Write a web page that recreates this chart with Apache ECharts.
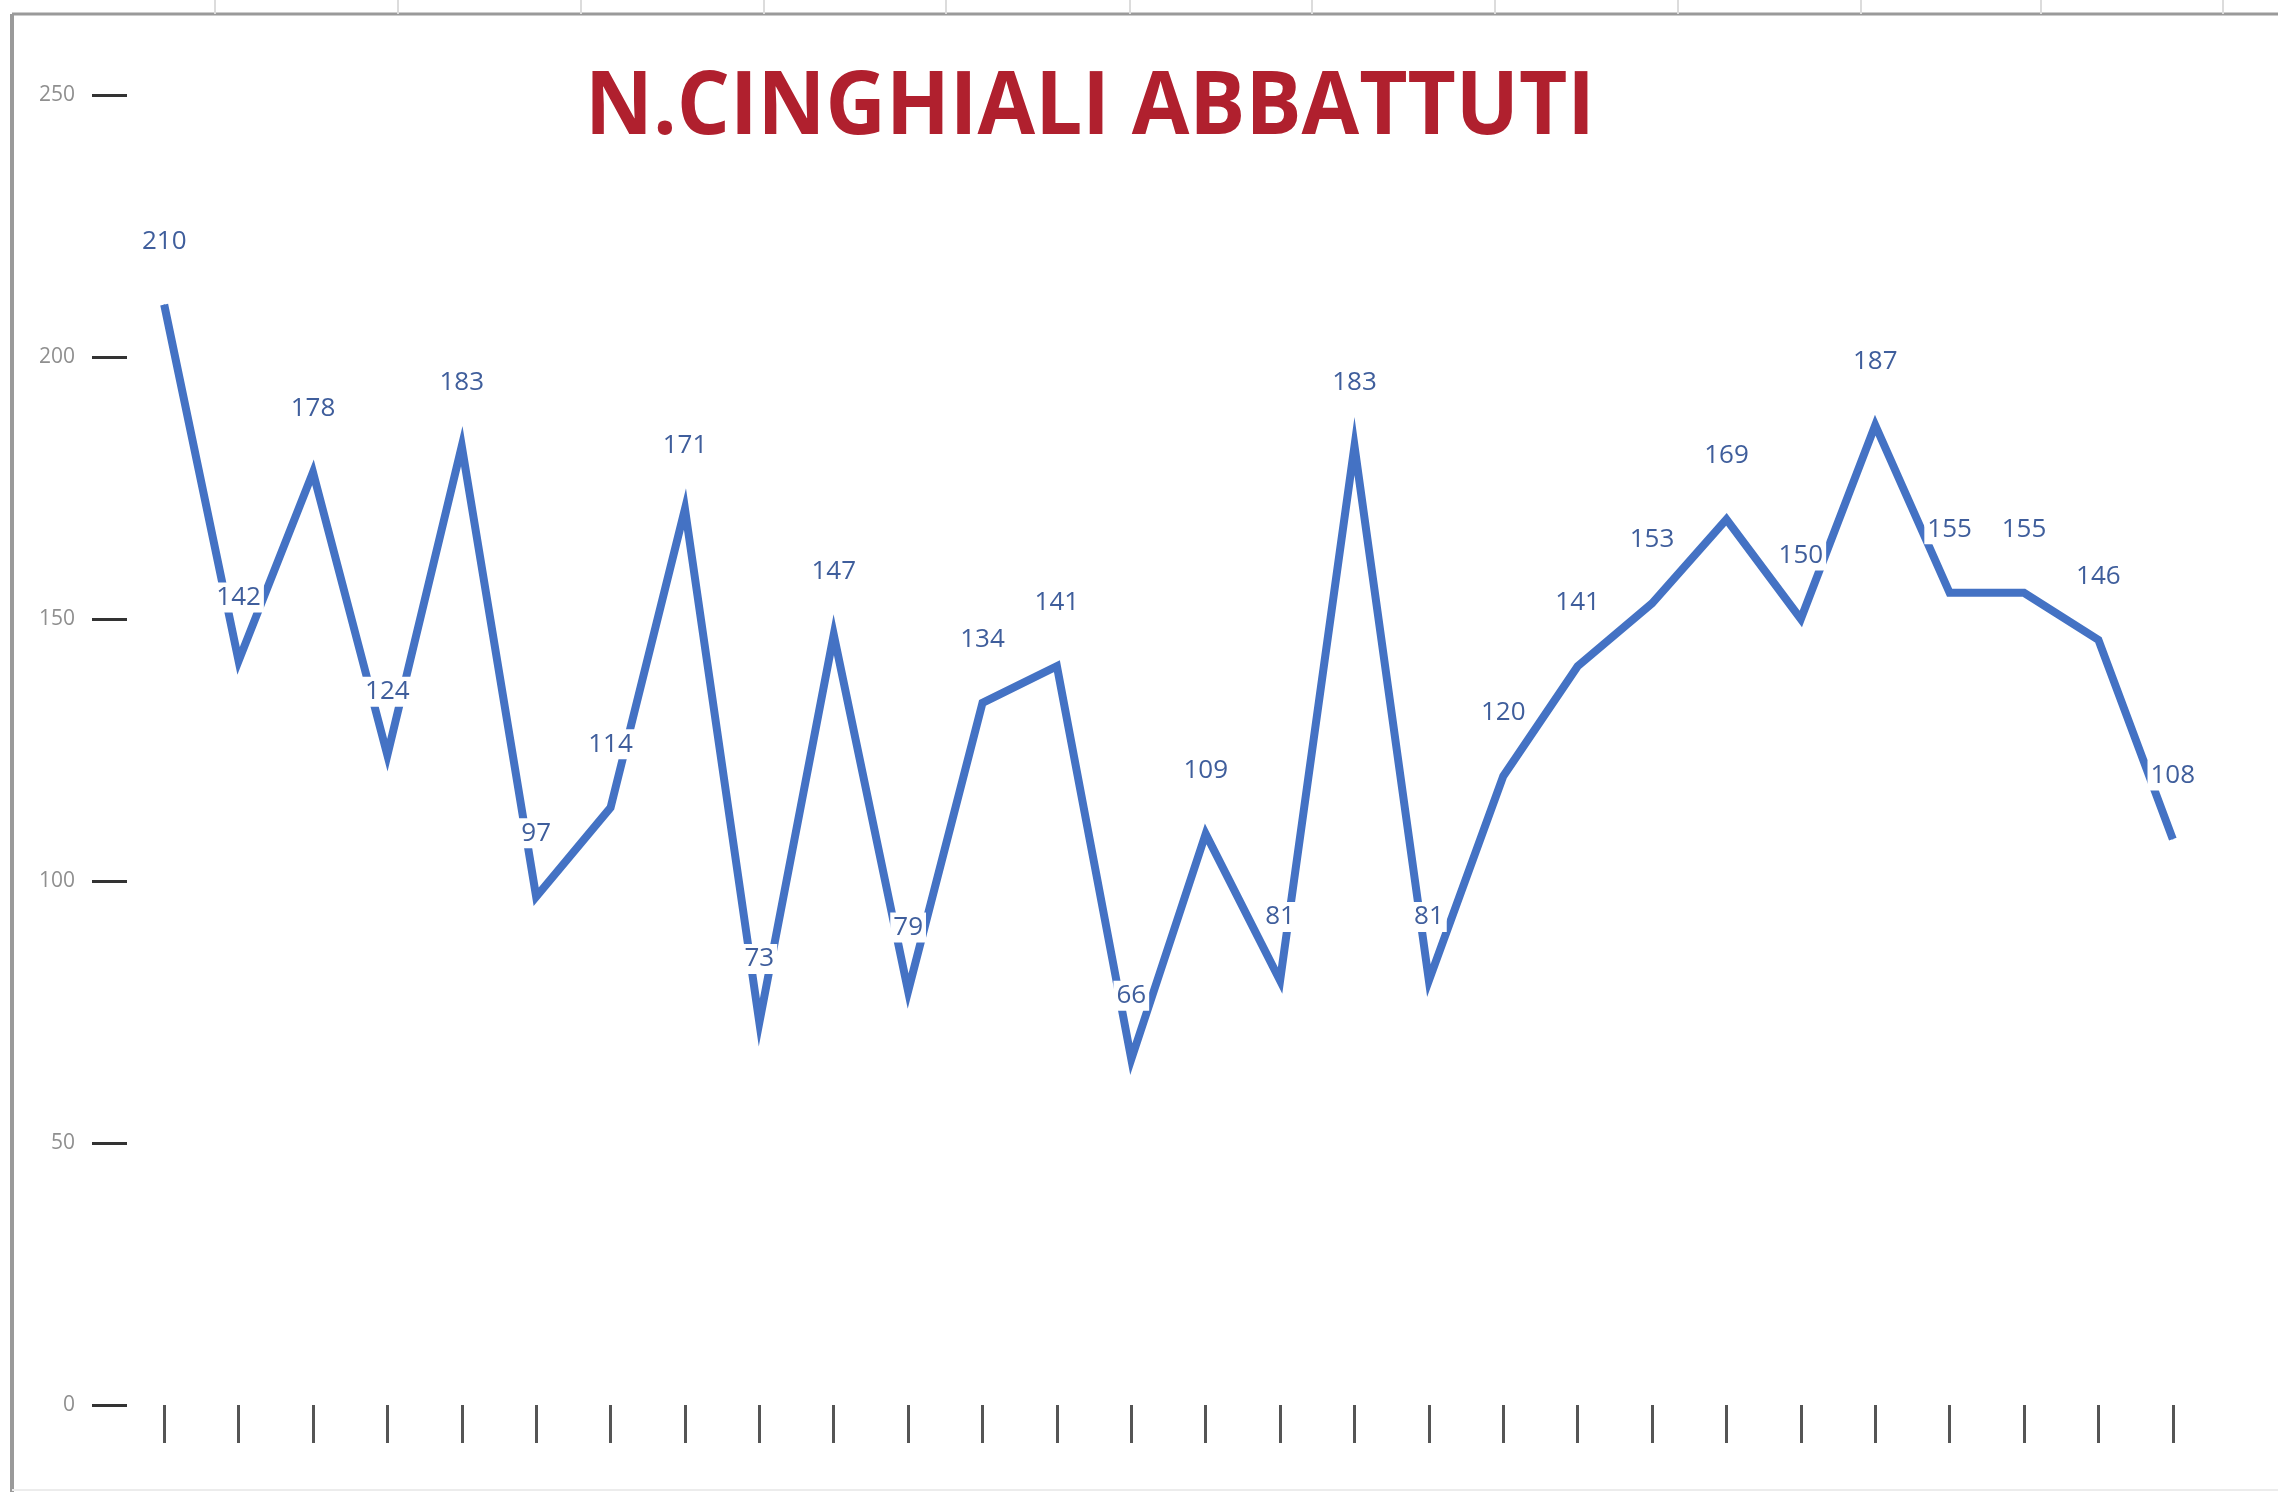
<!DOCTYPE html>
<html>
<head>
<meta charset="utf-8">
<title>N.CINGHIALI ABBATTUTI</title>
<script src="https://cdn.jsdelivr.net/npm/echarts@6/dist/echarts.min.js"></script>
<style>
  html, body { margin: 0; padding: 0; background: #fff; }
  #chart { width: 2278px; height: 1492px; }
</style>
</head>
<body>
<div id="chart"></div>
<script>
// categories (no labels are shown on the x axis in the original)
const stagioni = ['1', '2', '3', '4', '5', '6', '7', '8', '9', '10', '11', '12', '13', '14',
  '15', '16', '17', '18', '19', '20', '21', '22', '23', '24', '25', '26', '27', '28']
// wild boars culled per category
const abbattuti = [210, 142, 178, 124, 183, 97, 114, 171, 73, 147, 79, 134, 141, 66,
  109, 81, 183, 81, 120, 141, 153, 169, 150, 187, 155, 155, 146, 108]
// y axis tick values
const yTicks = [0, 50, 100, 150, 200, 250]
// spreadsheet column lines peeking above the frame
const colonne = [215, 398, 581, 764, 946, 1130, 1312, 1495, 1678, 1861, 2041, 2223]

const chart = echarts.init(document.getElementById('chart'))

const frame = [
  { type: 'line', shape: { x1: 12, y1: 14, x2: 2278, y2: 14 }, style: { stroke: '#9a9a9a', lineWidth: 3 } },
  { type: 'line', shape: { x1: 12, y1: 14, x2: 12, y2: 1492 }, style: { stroke: '#9a9a9a', lineWidth: 4 } },
  { type: 'line', shape: { x1: 12, y1: 1490, x2: 2278, y2: 1490 }, style: { stroke: '#ececec', lineWidth: 2 } }
]
colonne.forEach(x => {
  frame.push({ type: 'line', shape: { x1: x, y1: 0, x2: x, y2: 14 }, style: { stroke: '#dcdcdc', lineWidth: 2 } })
})
frame.push({
  type: 'text',
  x: 1090,
  y: 109,
  scaleX: 0.96,
  style: {
    text: 'N.CINGHIALI ABBATTUTI',
    font: 'bold 87px "Open Sans"',
    fill: '#b0202e',
    align: 'center',
    verticalAlign: 'middle'
  }
})

chart.setOption({
  animation: false,
  backgroundColor: '#fff',
  graphic: frame,
  grid: { left: 127, right: 68, top: 95, bottom: 87 },
  xAxis: {
    type: 'category',
    data: stagioni,
    boundaryGap: true,
    axisLine: { show: false },
    axisTick: {
      show: true,
      alignWithLabel: true,
      interval: 0,
      length: 38,
      lineStyle: { color: '#555', width: 3 }
    },
    axisLabel: { show: false },
    splitLine: { show: false }
  },
  yAxis: {
    type: 'value',
    min: yTicks[0],
    max: yTicks[yTicks.length - 1],
    interval: 50,
    axisLine: { show: false },
    axisTick: { show: true, length: 35, lineStyle: { color: '#333', width: 3 } },
    axisLabel: {
      margin: 52,
      fontFamily: 'Open Sans',
      fontSize: 21,
      color: '#8f8f8f'
    },
    splitLine: { show: false }
  },
  series: [
    {
      name: 'N.CINGHIALI ABBATTUTI',
      type: 'line',
      data: abbattuti,
      symbol: 'circle',
      symbolSize: 1,
      showAllSymbol: true,
      itemStyle: { color: '#4472c4' },
      lineStyle: { color: '#4472c4', width: 8, join: 'miter' },
      label: {
        show: true,
        position: 'top',
        distance: 48,
        fontFamily: 'Open Sans',
        fontSize: 26,
        color: '#3f5e9c',
        backgroundColor: '#fff',
        padding: [2, 3]
      },
      labelLayout: { hideOverlap: false }
    }
  ]
})
</script>
</body>
</html>
